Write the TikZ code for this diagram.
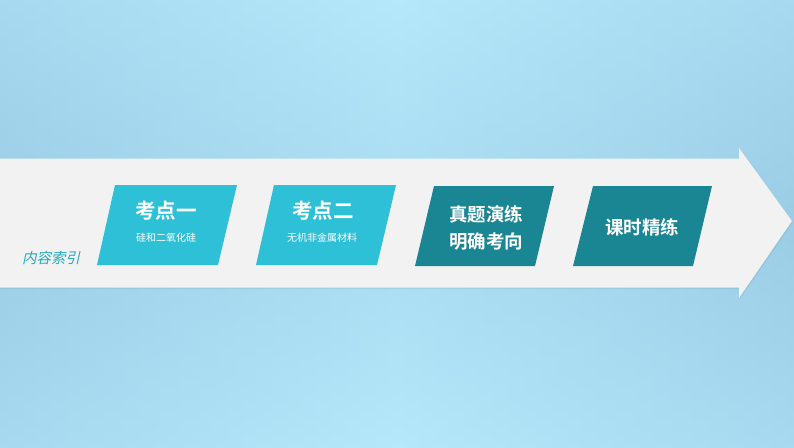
\documentclass[tikz,border=0pt]{standalone}
\usepackage{fontspec}
\setmainfont{Noto Sans CJK SC}
\newfontfamily\cjk{Noto Sans CJK SC}
\newfontfamily\cjkbold{Noto Sans CJK SC Bold}
\newfontfamily\cjkslant[FakeSlant=0.22]{Noto Sans CJK SC}
\definecolor{bgLight}{HTML}{B6E8FB}
\definecolor{bgDark}{HTML}{9BCDE6}
\definecolor{arrowFill}{HTML}{F2F2F2}
\definecolor{cyanBox}{HTML}{2EC0D7}
\definecolor{tealBox}{HTML}{1A8694}
\definecolor{labelTeal}{HTML}{2AA7BC}
\tikzset{
  boxtitle/.style={text=white, font=\cjkbold\fontsize{20.5}{23}\selectfont, inner sep=0pt},
  boxsub/.style={text=white, font=\cjk\fontsize{10}{12}\selectfont, inner sep=0pt},
  boxtitlesm/.style={text=white, font=\cjkbold\fontsize{18.5}{21}\selectfont, inner sep=0pt},
}
\begin{document}
\begin{tikzpicture}[x=1pt,y=-1pt]
\useasboundingbox (0,0) rectangle (794,447);
% background
\shade[top color=bgLight, bottom color=bgLight, middle color=bgDark] (0,0) rectangle (794,447);
\shade[left color=bgDark, right color=bgDark, middle color=bgLight, fill opacity=0.55] (0,0) rectangle (794,447);
% big arrow
\fill[black, opacity=0.06] (0,160) -- (740,160) -- (740,149) -- (793,222) -- (740,299) -- (740,289) -- (0,289) -- cycle;
\fill[arrowFill] (0,158.5) -- (739,158.5) -- (739,148) -- (792,221) -- (739,298) -- (739,287.5) -- (0,287.5) -- cycle;
% parallelograms
\fill[cyanBox] (115,185) -- (237,185) -- (218,265) -- (97,265) -- cycle;
\fill[cyanBox] (274,185) -- (396,185) -- (377,265) -- (256,265) -- cycle;
\fill[tealBox] (434,186) -- (554,186) -- (535,266) -- (415,266) -- cycle;
\fill[tealBox] (593,186) -- (712,186) -- (693,266) -- (573,266) -- cycle;
% texts
\node[text=labelTeal, font=\cjkslant\fontsize{14.5}{16}\selectfont, inner sep=0pt] (idx) at (51,258) {内容索引};
\node[boxtitle] (t1) at (166,211) {考点一};
\node[boxsub] (s1) at (166,238) {硅和二氧化硅};
\node[boxtitle] (t2) at (323,211) {考点二};
\node[boxsub] (s2) at (322,238) {无机非金属材料};
\node[boxtitlesm] (t3a) at (486,214) {真题演练};
\node[boxtitlesm] (t3b) at (486,242) {明确考向};
\node[boxtitlesm] (t4) at (642,227) {课时精练};
\end{tikzpicture}
\end{document}
